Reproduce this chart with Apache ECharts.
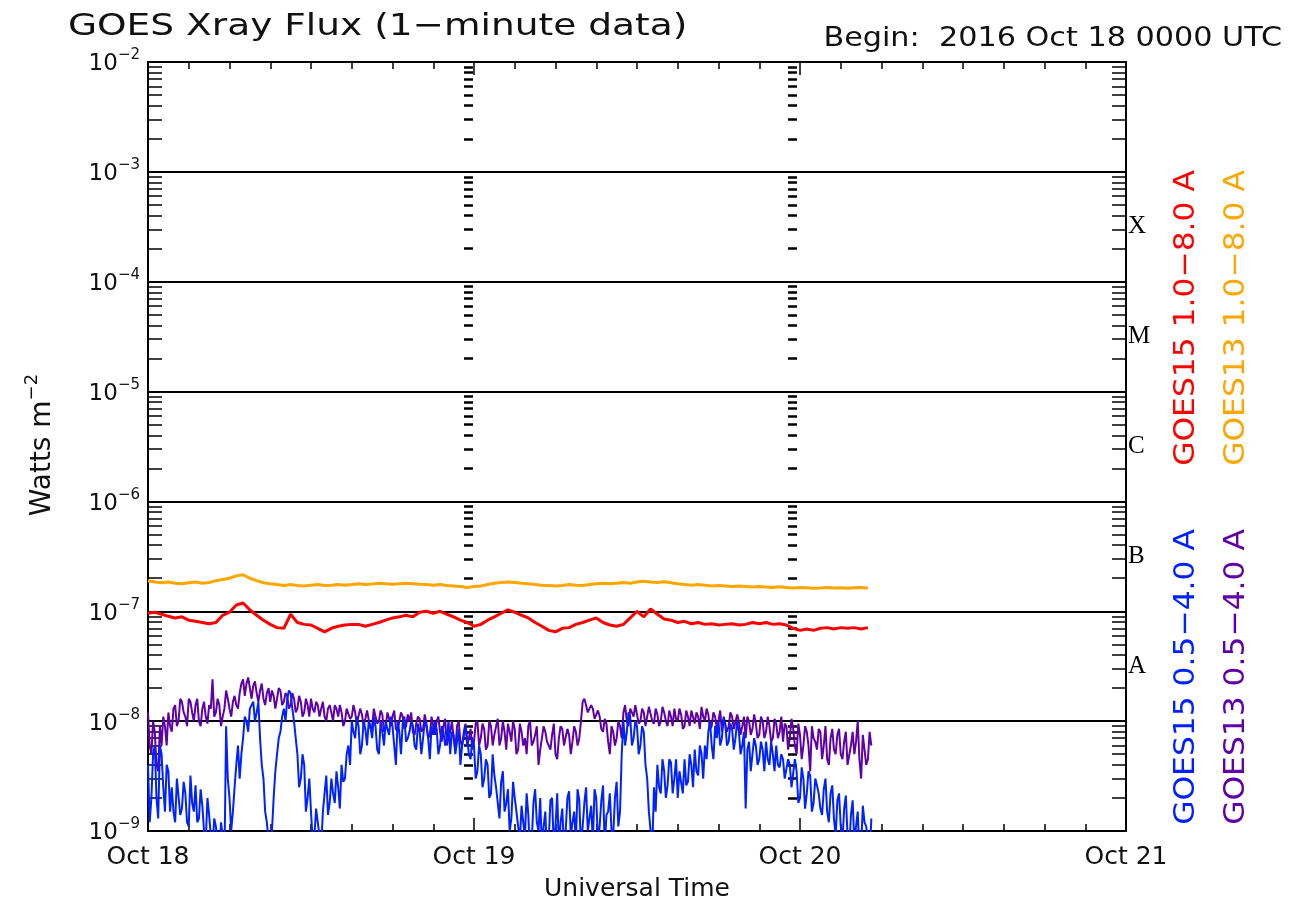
<!DOCTYPE html>
<html><head><meta charset="utf-8">
<script src="https://cdn.jsdelivr.net/npm/echarts@6/dist/echarts.min.js"></script>
<style>html,body{margin:0;padding:0;background:#fff}#c{width:1305px;height:904px}</style>
</head><body><div id="c"></div>
<script>
// ---- data (hours since 2016 Oct 18 00:00 UTC) ----
const STEP_LONG = 0.5;   // hours between samples of the 1.0-8.0 A channels
const STEP_SHORT = 0.25; // hours between samples of the 0.5-4.0 A channels ("B" arrays sit half a step later)
const xLabels = ['Oct 18', 'Oct 19', 'Oct 20', 'Oct 21'];
const classLabels = ['A', 'B', 'C', 'M', 'X'];
const legendTexts = ['GOES15 1.0\u22128.0 A', 'GOES13 1.0\u22128.0 A', 'GOES15 0.5\u22124.0 A', 'GOES13 0.5\u22124.0 A'];

const goes15Long = [
 9.6e-8, 9.8e-8, 9.4e-8, 9.0e-8, 8.7e-8, 8.9e-8, 8.3e-8, 8.1e-8, 7.9e-8, 7.7e-8,
 7.9e-8, 9.2e-8, 9.8e-8, 1.14e-7, 1.19e-7, 1.03e-7, 9.2e-8, 8.3e-8, 7.6e-8, 7.1e-8,
 7.0e-8, 9.4e-8, 7.9e-8, 7.6e-8, 7.5e-8, 7.0e-8, 6.5e-8, 7.0e-8, 7.3e-8, 7.5e-8,
 7.6e-8, 7.6e-8, 7.3e-8, 7.6e-8, 7.9e-8, 8.3e-8, 8.7e-8, 8.9e-8, 9.2e-8, 8.9e-8,
 9.8e-8, 1.0e-7, 9.6e-8, 1.0e-7, 9.4e-8, 8.9e-8, 8.3e-8, 7.9e-8, 7.3e-8, 7.6e-8,
 8.3e-8, 8.9e-8, 9.6e-8, 1.03e-7, 9.8e-8, 9.2e-8, 8.7e-8, 7.9e-8, 7.3e-8, 6.7e-8,
 6.5e-8, 7.0e-8, 7.1e-8, 7.6e-8, 7.9e-8, 8.3e-8, 8.7e-8, 7.9e-8, 7.5e-8, 7.3e-8,
 7.6e-8, 8.7e-8, 1.0e-7, 8.9e-8, 1.05e-7, 9.4e-8, 8.5e-8, 8.3e-8, 7.9e-8, 8.1e-8,
 7.7e-8, 7.9e-8, 7.6e-8, 7.7e-8, 7.5e-8, 7.6e-8, 7.7e-8, 7.5e-8, 7.6e-8, 7.9e-8,
 7.7e-8, 7.9e-8, 7.6e-8, 7.7e-8, 7.5e-8, 7.0e-8, 6.7e-8, 6.9e-8, 6.7e-8, 7.0e-8,
 7.1e-8, 6.9e-8, 7.1e-8, 7.0e-8, 7.1e-8, 6.9e-8, 7.1e-8
];
const goes13Long = [
 1.9e-7, 1.85e-7, 1.82e-7, 1.85e-7, 1.8e-7, 1.78e-7, 1.82e-7, 1.85e-7, 1.8e-7, 1.83e-7,
 1.9e-7, 1.95e-7, 2.0e-7, 2.1e-7, 2.15e-7, 2.0e-7, 1.9e-7, 1.82e-7, 1.78e-7, 1.75e-7,
 1.72e-7, 1.75e-7, 1.72e-7, 1.7e-7, 1.73e-7, 1.75e-7, 1.72e-7, 1.73e-7, 1.75e-7, 1.73e-7,
 1.75e-7, 1.78e-7, 1.75e-7, 1.77e-7, 1.8e-7, 1.78e-7, 1.76e-7, 1.78e-7, 1.8e-7, 1.78e-7,
 1.76e-7, 1.75e-7, 1.73e-7, 1.75e-7, 1.72e-7, 1.7e-7, 1.68e-7, 1.65e-7, 1.68e-7, 1.7e-7,
 1.75e-7, 1.8e-7, 1.83e-7, 1.85e-7, 1.83e-7, 1.8e-7, 1.78e-7, 1.75e-7, 1.73e-7, 1.72e-7,
 1.7e-7, 1.72e-7, 1.75e-7, 1.73e-7, 1.72e-7, 1.75e-7, 1.78e-7, 1.8e-7, 1.78e-7, 1.8e-7,
 1.83e-7, 1.8e-7, 1.85e-7, 1.88e-7, 1.85e-7, 1.83e-7, 1.86e-7, 1.82e-7, 1.78e-7, 1.75e-7,
 1.73e-7, 1.75e-7, 1.73e-7, 1.7e-7, 1.72e-7, 1.7e-7, 1.68e-7, 1.7e-7, 1.68e-7, 1.66e-7,
 1.68e-7, 1.66e-7, 1.65e-7, 1.67e-7, 1.65e-7, 1.63e-7, 1.65e-7, 1.64e-7, 1.62e-7, 1.63e-7,
 1.65e-7, 1.63e-7, 1.64e-7, 1.62e-7, 1.64e-7, 1.65e-7, 1.63e-7
];
const goes15ShortA = [
 4e-9, 2e-9, 6e-9, 1.3e-9, 5e-9, 1.5e-9, 3.5e-9, 2.5e-9, 1.2e-9, 3e-9,
 1.6e-9, 2.2e-9, 1.1e-9, 1.8e-9, 2.6e-9, 1.3e-9, 1.7e-9, 8e-10, 1.4e-9, 7e-10,
 1.1e-9, 6e-10, 9e-10, 9e-9, 2e-9, 1.5e-9, 4e-9, 3e-9, 7e-9, 1e-8,
 1.3e-8, 1.5e-8, 1.2e-8, 7e-9, 3e-9, 1.2e-9, 7e-10, 2e-9, 5e-9, 8e-9,
 1.3e-8, 1.6e-8, 1.8e-8, 1e-8, 5e-9, 3e-9, 4e-9, 2e-9, 1.5e-9, 9e-10,
 1.2e-9, 7e-10, 2.2e-9, 1.4e-9, 3e-9, 1.8e-9, 2.5e-9, 4e-9, 3e-9, 6e-9,
 1e-8, 7e-9, 9e-9, 6e-9, 8.5e-9, 1e-8, 7e-9, 9e-9, 5e-9, 8e-9,
 1e-8, 7.5e-9, 9e-9, 4e-9, 8e-9, 9.5e-9, 6.5e-9, 8e-9, 9e-9, 5.5e-9,
 8e-9, 7e-9, 9e-9, 4.5e-9, 7.5e-9, 8.5e-9, 6e-9, 8e-9, 7e-9, 5e-9,
 7.5e-9, 6.5e-9, 4e-9, 6e-9, 7e-9, 4.5e-9, 6e-9, 3.5e-9, 5e-9, 3e-9,
 4e-9, 2.2e-9, 3.2e-9, 1.8e-9, 2.8e-9, 1.5e-9, 2.4e-9, 1.3e-9, 2e-9, 1.1e-9,
 1.7e-9, 9e-10, 1.4e-9, 8e-10, 2.4e-9, 1e-9, 7e-10, 1.5e-9, 8e-10, 2e-9,
 1.1e-9, 7e-10, 1.6e-9, 1e-9, 2.3e-9, 1.2e-9, 8e-10, 1.9e-9, 1.1e-9, 2.5e-9,
 1.3e-9, 8e-10, 2e-9, 1.1e-9, 2.6e-9, 1.4e-9, 2.2e-9, 9e-10, 2.8e-9, 1.5e-9,
 1e-8, 8e-9, 1.1e-8, 7e-9, 9e-9, 6e-9, 8e-9, 3e-9, 1e-9, 2.5e-9,
 4e-9, 2.2e-9, 3.5e-9, 2.6e-9, 4.2e-9, 3e-9, 2e-9, 3.6e-9, 4.5e-9, 2.8e-9,
 4e-9, 5.5e-9, 3.2e-9, 5e-9, 6e-9, 8e-9, 6e-9, 9e-9, 1e-8, 7e-9,
 9.5e-9, 6.5e-9, 8.5e-9, 7e-9, 8e-9, 6e-9, 1.6e-9, 6.5e-9, 5e-9, 6e-9,
 4.5e-9, 5.5e-9, 6.5e-9, 4e-9, 5e-9, 6e-9, 3.8e-9, 4.5e-9, 3e-9, 4e-9,
 2.5e-9, 3.5e-9, 2e-9, 3e-9, 2.2e-9, 3.2e-9, 1.8e-9, 2.6e-9, 1.6e-9, 2.4e-9,
 1.5e-9, 2.2e-9, 1.3e-9, 1.9e-9, 1.1e-9, 1.6e-9, 9e-10, 1.4e-9, 8e-10, 1.5e-9,
 7e-10, 1.2e-9, 8e-10, 1.3e-9
];
const goes15ShortB = [
 1.2e-9, 5e-9, 2e-9, 6e-9, 2.5e-9, 4e-9, 1.5e-9,
 1.5e-9, 3e-9, 1.4e-9, 2.8e-9, 1.2e-9, 3.2e-9, 1.5e-9, 1.2e-9, 2.4e-9, 1e-9, 2e-9,
 9e-10, 1.3e-9, 8e-10, 1.2e-9, 5e-10,
 3e-9, 1e-9, 2.5e-9, 6e-9,
 5e-9, 1.1e-8, 8e-9, 1.4e-8, 1e-8, 1.5e-8,
 4e-9, 1.5e-9, 8e-10, 1e-9,
 3.5e-9, 7e-9, 1.1e-8, 1e-8, 1.9e-8, 1.3e-8,
 7e-9, 2.5e-9, 5e-9, 1.5e-9, 3e-9, 8e-10, 1.6e-9, 9e-10, 1.5e-9,
 3.2e-9, 1.8e-9, 2.2e-9, 3.5e-9, 1.6e-9, 2.8e-9, 5e-9,
 4e-9, 8e-9, 1.1e-8, 5e-9, 1e-8,
 6e-9, 9e-9, 1.1e-8, 5.5e-9, 1e-8, 6e-9, 8.5e-9, 1.1e-8, 6e-9, 1e-8,
 5e-9, 1.1e-8, 7e-9, 1e-8, 6e-9, 9.5e-9, 5e-9, 1e-8, 7e-9, 9e-9,
 1e-8, 5e-9, 9e-9, 6e-9, 1e-8, 8e-9, 5e-9, 8.5e-9, 6e-9, 9e-9, 5e-9,
 7e-9, 3e-9, 6e-9, 2.5e-9, 4.5e-9, 2e-9, 5e-9, 2.5e-9, 1.3e-9, 3.5e-9, 1.8e-9, 1e-9, 2.8e-9, 1.5e-9, 8e-10,
 1.2e-9, 2.2e-9, 6e-10, 1.8e-9, 1.2e-9, 2e-9, 1.1e-9, 6e-10, 1.9e-9, 7e-10,
 2.2e-9, 1.2e-9, 7e-10, 2e-9, 9e-10, 1.5e-9, 2.4e-9, 7e-10, 1.8e-9, 1e-9,
 1.7e-9, 2.4e-9, 8e-10, 1.9e-9, 7e-10, 1.5e-9, 1e-9, 2e-9, 1.1e-9, 5e-9,
 6e-9, 1.2e-8, 6e-9, 1e-8, 5e-9, 9e-9, 4e-9, 1.5e-9, 7e-10, 1.5e-9,
 2.5e-9, 4.5e-9, 2e-9, 4.5e-9, 2.2e-9, 4.5e-9, 3.5e-9, 2.2e-9, 2.6e-9, 5e-9, 2.5e-9, 3.5e-9, 6e-9, 3e-9, 4.5e-9,
 1e-8, 4.5e-9, 7e-9, 6e-9, 1.1e-8, 6e-9, 9.5e-9, 5.5e-9, 1e-8, 5e-9, 8e-9,
 5.5e-9, 3.5e-9, 7e-9, 4e-9, 6.5e-9, 3.5e-9, 4.5e-9, 6.5e-9, 3.5e-9, 4e-9, 5e-9,
 3e-9, 4.5e-9, 2.5e-9, 4.5e-9, 1.8e-9, 3.8e-9, 1.6e-9, 3.5e-9, 1.5e-9, 3e-9,
 2.2e-9, 1.4e-9, 3e-9, 1.2e-9, 2.6e-9, 9e-10, 2.2e-9, 8e-10, 2.1e-9, 7e-10,
 1.9e-9, 1.1e-9, 6e-10, 1.7e-9, 1.1e-9, 5e-10
];
const goes13ShortA = [
 1.2e-8, 5e-9, 8e-9, 3.5e-9, 6e-9, 9e-9, 1.2e-8, 8e-9, 1.4e-8, 1e-8,
 1.5e-8, 1.1e-8, 1.6e-8, 1.2e-8, 1.4e-8, 1e-8, 1.3e-8, 1.1e-8, 1.4e-8, 2.4e-8,
 1.2e-8, 1.4e-8, 1.1e-8, 1.9e-8, 1.3e-8, 1.5e-8, 1.4e-8, 1.8e-8, 2.4e-8, 2.2e-8,
 2e-8, 2.1e-8, 1.8e-8, 1.9e-8, 1.6e-8, 1.8e-8, 1.5e-8, 1.7e-8, 1.6e-8, 1.9e-8,
 1.5e-8, 1.7e-8, 1.4e-8, 1.6e-8, 1.3e-8, 1.5e-8, 1.2e-8, 1.4e-8, 1.6e-8, 1.2e-8,
 1.4e-8, 1.3e-8, 1.1e-8, 1.3e-8, 1.2e-8, 1.4e-8, 1.1e-8, 1.2e-8, 1e-8, 1.3e-8,
 1.1e-8, 1.2e-8, 9.5e-9, 1.15e-8, 1.05e-8, 1.2e-8, 9e-9, 1.1e-8, 1e-8, 1.15e-8,
 9e-9, 1.05e-8, 1.1e-8, 8.5e-9, 1e-8, 1.1e-8, 9e-9, 1e-8, 8e-9, 9.5e-9,
 1.05e-8, 8.5e-9, 9.5e-9, 7.5e-9, 9e-9, 1e-8, 8e-9, 9e-9, 6e-9, 8e-9,
 7e-9, 9e-9, 6.5e-9, 8e-9, 6e-9, 8.5e-9, 6.5e-9, 1e-8, 7e-9, 8.5e-9,
 6e-9, 9e-9, 7.5e-9, 1.05e-8, 7e-9, 8e-9, 9.5e-9, 6.5e-9, 8.5e-9, 5.5e-9,
 8e-9, 7e-9, 9e-9, 6e-9, 7.5e-9, 4e-9, 7e-9, 8e-9, 6e-9, 7.5e-9,
 5e-9, 7e-9, 8.5e-9, 6e-9, 7.5e-9, 6.5e-9, 8e-9, 7e-9, 1.5e-8, 1.4e-8,
 1.2e-8, 1.3e-8, 1.05e-8, 1.1e-8, 8e-9, 9.5e-9, 5e-9, 8e-9, 7e-9, 9e-9,
 1.2e-8, 1e-8, 1.3e-8, 1.1e-8, 1.35e-8, 1e-8, 1.2e-8, 1.1e-8, 1.3e-8, 9.5e-9,
 1.15e-8, 1e-8, 1.2e-8, 9e-9, 1.1e-8, 1.3e-8, 1e-8, 1.15e-8, 9e-9, 1.1e-8,
 1.25e-8, 9.5e-9, 1.1e-8, 1.35e-8, 1e-8, 1.15e-8, 9e-9, 1.1e-8, 1e-8, 8e-9,
 1.05e-8, 9e-9, 1.1e-8, 8.5e-9, 1e-8, 9e-9, 7e-9, 1e-8, 8.5e-9, 9.5e-9,
 7.5e-9, 1e-8, 8e-9, 9e-9, 7e-9, 9.5e-9, 8e-9, 6.5e-9, 9e-9, 7e-9,
 8.5e-9, 5e-9, 7.5e-9, 6e-9, 8e-9, 3.5e-9, 7e-9, 5.5e-9, 8e-9, 6e-9,
 4.5e-9, 7e-9, 5.5e-9, 7.5e-9, 5e-9, 6.5e-9, 4e-9, 6e-9, 5e-9, 1e-8,
 3e-9, 5.5e-9, 4.5e-9, 6e-9
];
const goes13ShortB = [
 6e-9, 1e-8, 4e-9, 9e-9, 1.1e-8, 6e-9, 9e-9,
 1.3e-8, 9e-9, 1.6e-8, 1.2e-8, 9e-9, 1.5e-8, 1e-8, 1.6e-8, 9e-9, 1.5e-8, 9.5e-9, 1.3e-8,
 1.1e-8, 1.6e-8, 9e-9, 1.3e-8, 1.6e-8, 1.1e-8, 1.7e-8, 1.3e-8,
 2.2e-8, 1.7e-8, 2.5e-8, 1.6e-8, 2.3e-8, 1.5e-8, 2.2e-8, 1.4e-8, 2e-8,
 1.9e-8, 1.3e-8, 2e-8, 1.4e-8, 1.8e-8, 1.3e-8, 1.8e-8, 1.2e-8, 1.7e-8, 1.1e-8, 1.6e-8, 1.1e-8, 1.3e-8, 1.5e-8, 1.1e-8,
 1.5e-8, 1e-8, 1.4e-8, 1e-8, 1.3e-8, 1.4e-8, 9e-9, 1.3e-8, 1.05e-8, 1.4e-8, 9.5e-9, 1.3e-8, 9e-9,
 1.25e-8, 8.5e-9, 1.3e-8, 9.5e-9, 1.25e-8, 8e-9, 1.2e-8, 9e-9, 1.25e-8, 8e-9,
 1.2e-8, 8.5e-9, 1.15e-8, 1.2e-8, 7.5e-9, 1.1e-8, 8e-9, 1.15e-8, 7e-9, 1.1e-8,
 7.5e-9, 1.1e-8, 6.5e-9, 1.05e-8, 7e-9, 1e-8, 5.5e-9, 1e-8, 6e-9, 9.5e-9, 7e-9,
 5.5e-9, 9.5e-9, 6e-9, 9.5e-9, 5.5e-9, 1e-8, 6e-9, 9e-9, 6e-9, 1e-8,
 5.5e-9, 8e-9, 1e-8, 5e-9, 9.5e-9, 6e-9, 5e-9, 1e-8, 6.5e-9, 9e-9,
 5.5e-9, 9e-9, 6.5e-9, 5.5e-9, 9.5e-9, 4.5e-9, 9e-9, 6e-9, 8.5e-9, 5e-9,
 9e-9, 6e-9, 1e-8,
 1.6e-8, 1.2e-8, 1.4e-8, 1.05e-8, 1.25e-8, 8.5e-9, 1.05e-8, 6.5e-9, 9e-9, 6e-9, 1e-8, 7e-9,
 1.4e-8, 9e-9, 1.2e-8, 1.4e-8, 9.5e-9, 1.3e-8, 9e-9, 1.35e-8, 1e-8, 1.3e-8,
 9e-9, 1.35e-8, 1e-8, 1.25e-8, 9e-9, 1.05e-8, 1.3e-8, 8.5e-9, 1.25e-8, 9e-9,
 1.3e-8, 1.2e-8, 8.5e-9, 1.1e-8, 1.3e-8, 8.5e-9, 1.2e-8, 8.5e-9, 1.25e-8, 1.05e-8,
 8e-9, 1.2e-8, 8.5e-9, 1.15e-8, 7.5e-9, 1.1e-8,
 1.1e-8, 7.5e-9, 1.15e-8, 7e-9, 1.1e-8, 7e-9, 1.1e-8, 6.5e-9, 1.05e-8, 7e-9,
 1.1e-8, 9.5e-9, 5.5e-9, 1.05e-8, 6e-9, 9.5e-9, 4.5e-9, 9e-9, 6e-9, 9e-9,
 6.5e-9, 8.5e-9, 4.5e-9, 9e-9, 4e-9, 8.5e-9, 5e-9, 8.5e-9, 4.5e-9, 8e-9,
 4e-9, 8e-9, 6.5e-9, 4.5e-9, 7.5e-9, 4e-9, 8e-9
];

// ---- styling ----
const FONT = 'DejaVu Sans';
const INK = '#111';
const COLORS = {red: '#ff0000', orange: '#ffa500', blue: '#0022ff', purple: '#6000a8'};

function pairs(arr, step) { return arr.map((v, i) => [i * step, v]); }
function interleave(a, b, step) {
  const out = [];
  a.forEach((v, i) => {
    out.push([i * step, v]);
    if (i < b.length) out.push([(i + 0.5) * step, b[i]]);
  });
  return out;
}

// tick positions (in decades) for the decoration axes
const minorExp = [];
for (let n = -9; n < -2; n++) for (let k = 2; k <= 9; k++) minorExp.push(n + Math.log10(k));
const classExp = [-7.5, -6.5, -5.5, -4.5, -3.5];

function tickAxis(position, offset, len, width) {
  return {
    type: 'value', position: position, offset: offset, min: -9, max: -2, interval: 1,
    axisLine: {show: false, onZero: false},
    axisTick: {show: true, inside: true, length: len, customValues: minorExp,
      lineStyle: {color: '#000', width: width}},
    axisLabel: {show: false},
    splitLine: {show: false}
  };
}

const chart = echarts.init(document.getElementById('c'), null, {renderer: 'canvas'});
const option = {
  animation: false,
  backgroundColor: '#fff',
  grid: {left: 148, right: 179, top: 62, bottom: 73},
  xAxis: [
    {
      type: 'value', position: 'bottom', min: 0, max: 72, interval: 24,
      axisLine: {show: true, onZero: false, lineStyle: {color: '#000', width: 2}},
      axisTick: {show: true, inside: true, length: 13, lineStyle: {color: '#000', width: 1.5}},
      minorTick: {show: true, splitNumber: 8, length: 7, lineStyle: {color: '#000', width: 1.5}},
      axisLabel: {show: true, margin: 14, color: INK, fontFamily: FONT, fontSize: 25,
        formatter: v => xLabels[Math.round(v / 24)]},
      splitLine: {show: false}
    },
    {
      type: 'value', position: 'top', min: 0, max: 72, interval: 24,
      axisLine: {show: true, onZero: false, lineStyle: {color: '#000', width: 2}},
      axisTick: {show: true, inside: true, length: 13, lineStyle: {color: '#000', width: 1.5}},
      minorTick: {show: true, splitNumber: 8, length: 7, lineStyle: {color: '#000', width: 1.5}},
      axisLabel: {show: false},
      splitLine: {show: false}
    }
  ],
  yAxis: [
    {
      type: 'log', logBase: 10, position: 'left', min: 1e-9, max: 1e-2, interval: 1,
      axisLine: {show: true, onZero: false, lineStyle: {color: '#000', width: 2}},
      axisTick: {show: false},
      splitLine: {show: true, lineStyle: {color: '#000', width: 2}},
      axisLabel: {
        show: true, margin: 8, color: INK, fontFamily: FONT, fontSize: 23,
        formatter: v => '{b|10}{s|\u2212' + (-Math.round(Math.log10(v))) + '}',
        rich: {
          b: {fontSize: 23, fontFamily: FONT, color: INK, lineHeight: 28, verticalAlign: 'bottom'},
          s: {fontSize: 15, fontFamily: FONT, color: INK, lineHeight: 15, verticalAlign: 'top'}
        }
      }
    },
    tickAxis('left', 0, 14, 1.5),
    tickAxis('right', 0, 14, 1.5),
    {
      type: 'value', position: 'right', offset: 0, min: -9, max: -2, interval: 1,
      axisLine: {show: true, onZero: false, lineStyle: {color: '#000', width: 2}},
      axisTick: {show: false},
      splitLine: {show: false},
      axisLabel: {show: true, customValues: classExp, margin: 2, color: '#000',
        fontFamily: 'Liberation Serif', fontSize: 25,
        formatter: v => classLabels[Math.round(v + 7.5)]}
    },
    tickAxis('left', -316, 9, 2.5),
    tickAxis('left', -640, 9, 2.5)
  ],
  series: [
    {name: legendTexts[0], type: 'line', data: pairs(goes15Long, STEP_LONG), showSymbol: false, symbol: 'none',
      lineStyle: {color: COLORS.red, width: 3}, itemStyle: {color: COLORS.red}, z: 3},
    {name: legendTexts[1], type: 'line', data: pairs(goes13Long, STEP_LONG), showSymbol: false, symbol: 'none',
      lineStyle: {color: COLORS.orange, width: 3}, itemStyle: {color: COLORS.orange}, z: 3},
    {name: legendTexts[3], type: 'line', data: interleave(goes13ShortA, goes13ShortB, STEP_SHORT), showSymbol: false, symbol: 'none',
      lineStyle: {color: COLORS.purple, width: 2}, itemStyle: {color: COLORS.purple}, z: 3},
    {name: legendTexts[2], type: 'line', data: interleave(goes15ShortA, goes15ShortB, STEP_SHORT), showSymbol: false, symbol: 'none',
      lineStyle: {color: COLORS.blue, width: 2}, itemStyle: {color: COLORS.blue}, z: 4}
  ],
  graphic: [
    {type: 'text', x: 68, y: 27, scaleX: 1.21, silent: true,
      style: {text: 'GOES Xray Flux (1\u2212minute data)', fill: INK, fontFamily: FONT, fontSize: 31,
        align: 'left', verticalAlign: 'middle'}},
    {type: 'text', x: 1282, y: 39, scaleX: 1.12, silent: true,
      style: {text: 'Begin:  2016 Oct 18 0000 UTC', fill: INK, fontFamily: FONT, fontSize: 27,
        align: 'right', verticalAlign: 'middle'}},
    {type: 'text', x: 637, y: 889, silent: true,
      style: {text: 'Universal Time', fill: INK, fontFamily: FONT, fontSize: 25,
        align: 'center', verticalAlign: 'middle'}},
    {type: 'text', x: 40, y: 445, rotation: Math.PI / 2, silent: true,
      style: {text: '{b|Watts m}{s|\u22122}', fill: INK, fontFamily: FONT, align: 'center', verticalAlign: 'middle',
        rich: {
          b: {fontSize: 28, fontFamily: FONT, fill: INK, lineHeight: 34, verticalAlign: 'bottom'},
          s: {fontSize: 18, fontFamily: FONT, fill: INK, lineHeight: 18, verticalAlign: 'top'}
        }}},
    {type: 'text', x: 1186, y: 318, rotation: Math.PI / 2, scaleX: 1.08, silent: true,
      style: {text: legendTexts[0], fill: COLORS.red, fontFamily: FONT, fontSize: 29, align: 'center', verticalAlign: 'middle'}},
    {type: 'text', x: 1236, y: 318, rotation: Math.PI / 2, scaleX: 1.08, silent: true,
      style: {text: legendTexts[1], fill: COLORS.orange, fontFamily: FONT, fontSize: 29, align: 'center', verticalAlign: 'middle'}},
    {type: 'text', x: 1186, y: 677, rotation: Math.PI / 2, scaleX: 1.08, silent: true,
      style: {text: legendTexts[2], fill: COLORS.blue, fontFamily: FONT, fontSize: 29, align: 'center', verticalAlign: 'middle'}},
    {type: 'text', x: 1236, y: 677, rotation: Math.PI / 2, scaleX: 1.08, silent: true,
      style: {text: legendTexts[3], fill: COLORS.purple, fontFamily: FONT, fontSize: 29, align: 'center', verticalAlign: 'middle'}}
  ]
};
chart.setOption(option);
</script>
</body></html>
